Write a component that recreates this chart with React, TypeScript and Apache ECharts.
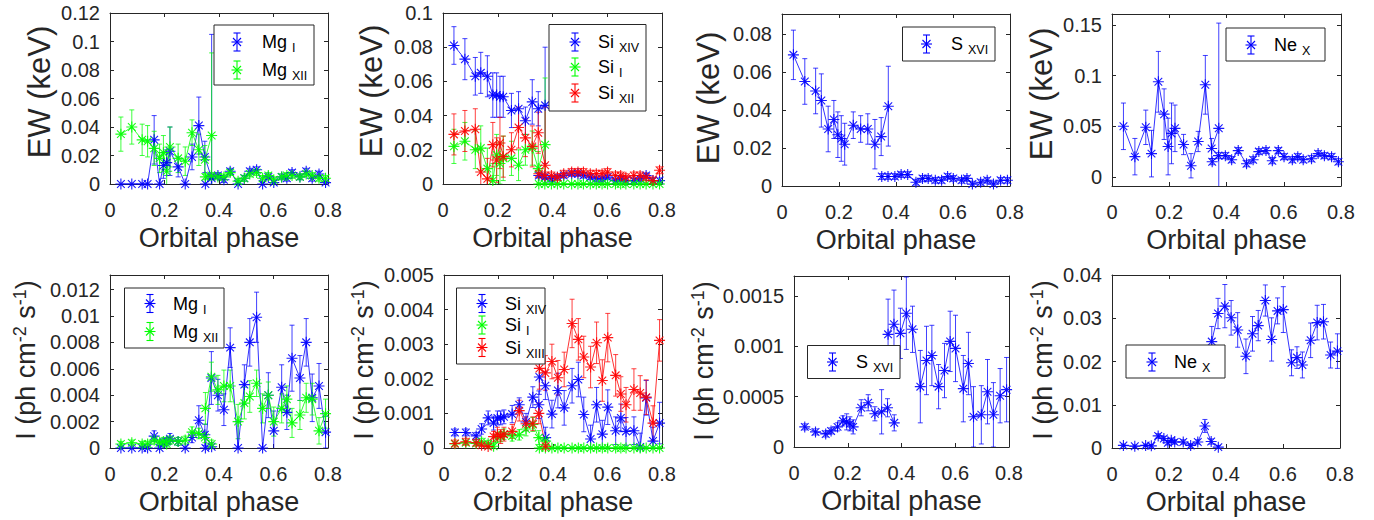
import React, { useEffect, useRef } from "react";
import * as echarts from "echarts";

// ---------- phases ----------
const phaseA = [0.04, 0.08, 0.118, 0.138, 0.162, 0.182, 0.196, 0.208, 0.22, 0.25, 0.276, 0.301, 0.326, 0.348, 0.373];
const phaseB = [0.35, 0.372, 0.396, 0.418, 0.441, 0.47, 0.493, 0.513, 0.538, 0.56, 0.581, 0.601, 0.63, 0.649, 0.668, 0.697, 0.72, 0.742, 0.767, 0.791];

// ---------- tick labels ----------
const xTicks = [0, 0.2, 0.4, 0.6, 0.8];
const ewMgTicks = [0, 0.02, 0.04, 0.06, 0.08, 0.1, 0.12];
const ewSiTicks = [0, 0.02, 0.04, 0.06, 0.08, 0.1];
const ewSTicks = [0, 0.02, 0.04, 0.06, 0.08];
const ewNeTicks = [0, 0.05, 0.1, 0.15];
const iMgTicks = [0, 0.002, 0.004, 0.006, 0.008, 0.01, 0.012];
const iSiTicks = [0, 0.001, 0.002, 0.003, 0.004, 0.005];
const iSTicks = [0, 0.0005, 0.001, 0.0015];
const iNeTicks = [0, 0.01, 0.02, 0.03, 0.04];

// ---------- EW Mg ----------
const mgIEwA = [0, 0, 0, 0, 0.031, 0, 0.013, 0.015, 0.023, 0.012, 0, 0.019, 0.041, 0.019, 0.004];
const mgIEwAErr = [0, 0, 0, 0, 0.017, 0, 0.009, 0.009, 0.017, 0.007, 0, 0.009, 0.02, 0.011, 0.101];
const mgIEwB = [0, 0.005, 0.006, 0.003, 0.009, 0, 0.004, 0.009, 0.01, 0, 0.005, 0.001, 0.005, 0.004, 0.008, 0.005, 0.009, 0.004, 0.007, 0.001];
const mgIEwBErr = [0, 0.002, 0.002, 0.002, 0.002, 0.001, 0.002, 0.002, 0.002, 0.001, 0.002, 0.001, 0.002, 0.002, 0.002, 0.002, 0.002, 0.002, 0.002, 0.001];
const mgXiiEwA = [0.035, 0.04, 0.031, 0.03, 0.025, 0.018, 0.022, 0.009, 0.026, 0.018, 0.016, 0.036, 0.024, 0.017, 0.034];
const mgXiiEwAErr = [0.012, 0.012, 0.011, 0.011, 0.012, 0.01, 0.012, 0.013, 0.014, 0.01, 0.01, 0.009, 0.011, 0.01, 0.058];
const mgXiiEwB = [0.005, 0.006, 0.005, 0.005, 0.008, 0.002, 0.004, 0.007, 0.008, 0.004, 0.006, 0.003, 0.005, 0.006, 0.006, 0.005, 0.007, 0.006, 0.004, 0.004];
const mgXiiEwBErr = [0.002, 0.002, 0.002, 0.002, 0.002, 0.002, 0.002, 0.002, 0.002, 0.002, 0.002, 0.002, 0.002, 0.002, 0.002, 0.002, 0.002, 0.002, 0.002, 0.002];

// ---------- EW Si ----------
const siXivEwA = [0.081, 0.073, 0.063, 0.065, 0.063, 0.052, 0.052, 0.051, 0.051, 0.043, 0.044, 0.037, 0.048, 0.044, 0.046];
const siXivEwAErr = [0.011, 0.012, 0.011, 0.012, 0.012, 0.013, 0.013, 0.012, 0.012, 0.01, 0.01, 0.008, 0.013, 0.01, 0.034];
const siXivEwB = [0.005, 0.004, 0.003, 0.004, 0.005, 0.006, 0.006, 0.005, 0.004, 0.003, 0.003, 0.004, 0.002, 0.003, 0.002, 0.002, 0.003, 0.005, 0.002, 0.002];
const siXivEwBErr = [0.0015, 0.0015, 0.0015, 0.0015, 0.0015, 0.0015, 0.0015, 0.0015, 0.0015, 0.0015, 0.0015, 0.0015, 0.0015, 0.0015, 0.0015, 0.0015, 0.0015, 0.0015, 0.0015, 0.0015];
const siIEwA = [0.022, 0.025, 0.02, 0.021, 0.009, 0.002, 0.017, 0.012, 0.015, 0.015, 0.011, 0.02, 0.021, 0.009, 0.023];
const siIEwAErr = [0.01, 0.011, 0.011, 0.013, 0.012, 0.01, 0.012, 0.012, 0.013, 0.01, 0.009, 0.009, 0.01, 0.01, 0.039];
const siIEwB = [0, 0, 0, 0, 0, 0, 0, 0, 0, 0, 0, 0, 0, 0, 0, 0, 0, 0, 0, 0];
const siIEwBErr = [0.0005, 0.0005, 0.0005, 0.0005, 0.0005, 0.0005, 0.0005, 0.0005, 0.0005, 0.0005, 0.0005, 0.0005, 0.0005, 0.0005, 0.0005, 0.0005, 0.0005, 0.0005, 0.0005, 0.0005];
const siXiiEwA = [0.029, 0.031, 0.032, 0.007, 0.003, 0.023, 0.014, 0.024, 0.016, 0.02, 0.033, 0.027, 0.022, 0.03, 0.011];
const siXiiEwAErr = [0.012, 0.012, 0.012, 0.013, 0.012, 0.013, 0.013, 0.015, 0.012, 0.01, 0.012, 0.011, 0.012, 0.012, 0.034];
const siXiiEwB = [0.006, 0.005, 0.005, 0.004, 0.006, 0.007, 0.007, 0.007, 0.006, 0.006, 0.006, 0.007, 0.005, 0.005, 0.004, 0.005, 0.005, 0.004, 0.002, 0.008];
const siXiiEwBErr = [0.002, 0.002, 0.002, 0.002, 0.002, 0.002, 0.002, 0.002, 0.002, 0.002, 0.002, 0.002, 0.002, 0.002, 0.002, 0.002, 0.002, 0.002, 0.002, 0.002];

// ---------- EW S ----------
const sXviEwA = [0.069, 0.055, 0.05, 0.045, 0.03, 0.035, 0.027, 0.025, 0.022, 0.032, 0.03, 0.03, 0.022, 0.026, 0.042];
const sXviEwAErr = [0.013, 0.012, 0.012, 0.014, 0.012, 0.01, 0.012, 0.012, 0.011, 0.007, 0.007, 0.008, 0.013, 0.01, 0.021];
const sXviEwB = [0.005, 0.005, 0.005, 0.006, 0.006, 0.002, 0.004, 0.004, 0.003, 0.003, 0.005, 0.004, 0.003, 0.004, 0.001, 0.002, 0.003, 0.001, 0.003, 0.003];
const sXviEwBErr = [0.0015, 0.0015, 0.0015, 0.0015, 0.0015, 0.0015, 0.0015, 0.0015, 0.0015, 0.0015, 0.0015, 0.0015, 0.0015, 0.0015, 0.0015, 0.0015, 0.0015, 0.0015, 0.0015, 0.0015];

// ---------- EW Ne ----------
const neXEwA = [0.05, 0.02, 0.049, 0.023, 0.094, 0.062, 0.03, 0.043, 0.048, 0.032, 0.011, 0.035, 0.091, 0.028, 0.048];
const neXEwAErr = [0.023, 0.018, 0.017, 0.023, 0.03, 0.025, 0.028, 0.03, 0.023, 0.01, 0.012, 0.01, 0.029, 0.01, 0.104];
const neXEwB = [0.015, 0.021, 0.021, 0.017, 0.026, 0.013, 0.017, 0.025, 0.026, 0.016, 0.026, 0.02, 0.017, 0.02, 0.017, 0.018, 0.023, 0.021, 0.02, 0.015];
const neXEwBErr = [0.003, 0.003, 0.003, 0.003, 0.003, 0.003, 0.003, 0.003, 0.003, 0.003, 0.003, 0.003, 0.003, 0.003, 0.003, 0.003, 0.003, 0.003, 0.003, 0.003];

// ---------- I Mg ----------
const mgIIntA = [0, 0, 0, 0, 0.0009, 0, 0.0004, 0.0005, 0.0007, 0.0005, 0, 0.0008, 0.0021, 0.001, 0.0001];
const mgIIntAErr = [0, 0, 0, 0, 0.0004, 0, 0.0003, 0.0003, 0.0004, 0.0003, 0, 0.0004, 0.0011, 0.0008, 0.0003];
const mgIIntB = [0, 0.0053, 0.004, 0.0029, 0.0076, 0, 0.0048, 0.008, 0.0099, 0, 0.004, 0.0013, 0.0046, 0.0027, 0.0068, 0.0053, 0.008, 0.0038, 0.0047, 0.0012];
const mgIIntBErr = [0, 0.002, 0.0012, 0.0012, 0.0015, 0.002, 0.0015, 0.0018, 0.0019, 0, 0.0017, 0.0015, 0.0017, 0.0013, 0.0025, 0.0017, 0.0018, 0.0018, 0.0017, 0.0012];
const mgXiiIntA = [0.0003, 0.0004, 0.0003, 0.0003, 0.0006, 0.0004, 0.0005, 0.0003, 0.0006, 0.0005, 0.0006, 0.0012, 0.0011, 0.0008, 0.0003];
const mgXiiIntAErr = [0.0002, 0.0002, 0.0002, 0.0002, 0.0003, 0.0002, 0.0003, 0.0003, 0.0003, 0.0003, 0.0003, 0.0004, 0.0004, 0.0004, 0.0003];
const mgXiiIntB = [0.003, 0.0054, 0.0044, 0.0047, 0.0047, 0.002, 0.0034, 0.0039, 0.0049, 0.003, 0.004, 0.002, 0.003, 0.0037, 0.0019, 0.0025, 0.0038, 0.0037, 0.0013, 0.0026];
const mgXiiIntBErr = [0.0012, 0.0011, 0.0011, 0.0012, 0.0012, 0.0013, 0.0012, 0.0012, 0.001, 0.0011, 0.001, 0.0011, 0.0011, 0.001, 0.0011, 0.0011, 0.0011, 0.0012, 0.001, 0.0011];

// ---------- I Si ----------
const siXivIntA = [0.00045, 0.00045, 0.00035, 0.00055, 0.00087, 0.00072, 0.00087, 0.00087, 0.0009, 0.00098, 0.00125, 0.00075, 0.00147, 0.00125, 0.0003];
const siXivIntAErr = [0.0001, 0.0001, 0.0001, 0.00015, 0.0002, 0.0002, 0.0002, 0.0002, 0.0002, 0.00025, 0.0002, 0.00025, 0.0003, 0.0004, 0.0003];
const siXivIntB = [0.00205, 0.0018, 0.00098, 0.00166, 0.00116, 0.0018, 0.00198, 0.00097, 0.00026, 0.00125, 0.0004, 0.00118, 0.0005, 0.00087, 0.00048, 0.0005, 0.00003, 0.00145, 0.0002, 0.00072];
const siXivIntBErr = [0.0005, 0.0004, 0.0004, 0.0005, 0.0005, 0.0005, 0.0005, 0.0005, 0.0004, 0.0005, 0.0004, 0.0005, 0.0004, 0.0004, 0.0004, 0.0004, 0.0004, 0.0005, 0.0004, 0.0006];
const siIIntA = [0.00012, 0.00015, 0.00013, 0.00018, 0.00012, 0.00005, 0.0003, 0.00033, 0.0004, 0.00035, 0.00038, 0.00055, 0.00068, 0.0003, 0.0002];
const siIIntAErr = [0.00005, 0.00005, 0.00005, 0.0001, 0.0001, 0.0001, 0.00015, 0.00015, 0.00015, 0.00015, 0.00015, 0.0002, 0.0002, 0.0002, 0.0001];
const siIIntB = [0, 0, 0, 0, 0, 0, 0, 0, 0, 0, 0, 0, 0, 0, 0, 0, 0, 0, 0, 0];
const siIIntBErr = [0.00003, 0.00003, 0.00003, 0.00003, 0.00003, 0.00003, 0.00003, 0.00003, 0.00003, 0.00003, 0.00003, 0.00003, 0.00003, 0.00003, 0.00003, 0.00003, 0.00003, 0.00003, 0.00003, 0.00003];
const siXiiiIntA = [0.00013, 0.00018, 0.00015, 0.00008, 0.00004, 0.00033, 0.0004, 0.00033, 0.0004, 0.00048, 0.00108, 0.0007, 0.0007, 0.001, 0.00005];
const siXiiiIntAErr = [0.0001, 0.0001, 0.0001, 0.0001, 0.0001, 0.00015, 0.0002, 0.0002, 0.0002, 0.0002, 0.0003, 0.0002, 0.0002, 0.0003, 0.0001];
const siXiiiIntB = [0.0023, 0.00217, 0.0025, 0.00203, 0.00227, 0.0036, 0.00314, 0.00263, 0.00234, 0.00304, 0.00195, 0.00319, 0.0021, 0.00156, 0.00125, 0.00169, 0.00159, 0.00147, 0.00072, 0.00311];
const siXiiiIntBErr = [0.0006, 0.0005, 0.0005, 0.0005, 0.0005, 0.0007, 0.0006, 0.0006, 0.0006, 0.0006, 0.0006, 0.0007, 0.0006, 0.0005, 0.0005, 0.0006, 0.0005, 0.0005, 0.0005, 0.0006];

// ---------- I S ----------
const sXviIntA = [0.0002, 0.00015, 0.00013, 0.00016, 0.0002, 0.00026, 0.00025, 0.00023, 0.0002, 0.00039, 0.00044, 0.00033, 0.00035, 0.00039, 0.00024];
const sXviIntAErr = [0.00003, 0.00003, 0.00003, 0.00003, 0.00004, 0.00005, 0.00008, 0.00007, 0.00007, 0.00008, 0.00008, 0.00007, 0.00022, 0.00009, 0.00008];
const sXviIntB = [0.00112, 0.00122, 0.00113, 0.00133, 0.00117, 0.0006, 0.00086, 0.00091, 0.0006, 0.00076, 0.00105, 0.00098, 0.00058, 0.00083, 0.0003, 0.00032, 0.00055, 0.00032, 0.00051, 0.00057];
const sXviIntBErr = [0.00035, 0.00034, 0.00025, 0.00036, 0.00023, 0.00036, 0.00034, 0.0003, 0.00022, 0.00027, 0.0003, 0.00033, 0.00033, 0.00031, 0.0003, 0.00029, 0.00032, 0.00032, 0.00027, 0.00032];

// ---------- I Ne ----------
const neXIntA = [0.0006, 0.0004, 0.0006, 0.0005, 0.0028, 0.0022, 0.0012, 0.0018, 0.0014, 0.0014, 0.0006, 0.0014, 0.0051, 0.0015, 0.0002];
const neXIntAErr = [0.0003, 0.0003, 0.0003, 0.0003, 0.0005, 0.0005, 0.0005, 0.0005, 0.0005, 0.0005, 0.0004, 0.0005, 0.0015, 0.0006, 0.0004];
const neXIntB = [0.0246, 0.0311, 0.0328, 0.0301, 0.0273, 0.0212, 0.0264, 0.0283, 0.0341, 0.0251, 0.0317, 0.032, 0.0197, 0.0209, 0.0192, 0.0249, 0.029, 0.0292, 0.0215, 0.0224];
const neXIntBErr = [0.0035, 0.0035, 0.005, 0.004, 0.004, 0.004, 0.004, 0.0035, 0.0036, 0.005, 0.003, 0.0053, 0.003, 0.0025, 0.003, 0.004, 0.004, 0.004, 0.003, 0.004];

// ---------- styling / layout ----------
const FONT = "'Liberation Sans', Arial, Helvetica, sans-serif";
const AX = "#262626";
const BLUE = "#0000ff";
const GREEN = "#00ff00";
const RED = "#ff0000";
const STAR = "path://M5 0L5 10M0 5L10 5M1.5 1.5L8.5 8.5M1.5 8.5L8.5 1.5";

type DS = { name: string; sub: string; color: string; a: number[]; ae: number[]; b: number[]; be: number[] };
type Panel = {
  grid: number[]; y: number[]; ticks: number[]; ew: boolean; labelPos: number[];
  legend: { box: number[]; rows: number[]; ix: number; tx: number };
  data: DS[];
};

const panels: Panel[] = [
  {
    grid: [110, 13, 218, 171], y: [0, 0.12], ticks: ewMgTicks, ew: true, labelPos: [39, 92],
    legend: { box: [214, 25, 100, 60], rows: [42, 70], ix: 237, tx: 262 },
    data: [
      { name: "Mg", sub: "I", color: BLUE, a: mgIEwA, ae: mgIEwAErr, b: mgIEwB, be: mgIEwBErr },
      { name: "Mg", sub: "XII", color: GREEN, a: mgXiiEwA, ae: mgXiiEwAErr, b: mgXiiEwB, be: mgXiiEwBErr },
    ],
  },
  {
    grid: [443, 13, 219, 171], y: [0, 0.1], ticks: ewSiTicks, ew: true, labelPos: [371, 91],
    legend: { box: [549, 24.5, 97, 86.5], rows: [42, 67, 93], ix: 575, tx: 598 },
    data: [
      { name: "Si", sub: "XIV", color: BLUE, a: siXivEwA, ae: siXivEwAErr, b: siXivEwB, be: siXivEwBErr },
      { name: "Si", sub: "I", color: GREEN, a: siIEwA, ae: siIEwAErr, b: siIEwB, be: siIEwBErr },
      { name: "Si", sub: "XII", color: RED, a: siXiiEwA, ae: siXiiEwAErr, b: siXiiEwB, be: siXiiEwBErr },
    ],
  },
  {
    grid: [782, 14, 228, 172], y: [0, 0.0905], ticks: ewSTicks, ew: true, labelPos: [708, 98],
    legend: { box: [902.5, 27, 92.5, 34], rows: [44], ix: 926.5, tx: 951 },
    data: [{ name: "S", sub: "XVI", color: BLUE, a: sXviEwA, ae: sXviEwAErr, b: sXviEwB, be: sXviEwBErr }],
  },
  {
    grid: [1112, 14, 229, 172], y: [-0.009, 0.161], ticks: ewNeTicks, ew: true, labelPos: [1041, 94],
    legend: { box: [1226, 28, 99, 33], rows: [45], ix: 1251, tx: 1274 },
    data: [{ name: "Ne", sub: "X", color: BLUE, a: neXEwA, ae: neXEwAErr, b: neXEwB, be: neXEwBErr }],
  },
  {
    grid: [110, 275, 218, 173], y: [0, 0.0131], ticks: iMgTicks, ew: false, labelPos: [26, 360],
    legend: { box: [124.5, 288, 99.5, 60], rows: [303.5, 331.5], ix: 150, tx: 173 },
    data: [
      { name: "Mg", sub: "I", color: BLUE, a: mgIIntA, ae: mgIIntAErr, b: mgIIntB, be: mgIIntBErr },
      { name: "Mg", sub: "XII", color: GREEN, a: mgXiiIntA, ae: mgXiiIntAErr, b: mgXiiIntB, be: mgXiiIntBErr },
    ],
  },
  {
    grid: [444, 275, 218, 173], y: [0, 0.005], ticks: iSiTicks, ew: false, labelPos: [364, 360],
    legend: { box: [456.5, 288, 88.5, 76], rows: [303.5, 325, 347.5], ix: 482, tx: 505 },
    data: [
      { name: "Si", sub: "XIV", color: BLUE, a: siXivIntA, ae: siXivIntAErr, b: siXivIntB, be: siXivIntBErr },
      { name: "Si", sub: "I", color: GREEN, a: siIIntA, ae: siIIntAErr, b: siIIntB, be: siIIntBErr },
      { name: "Si", sub: "XIII", color: RED, a: siXiiiIntA, ae: siXiiiIntAErr, b: siXiiiIntB, be: siXiiiIntBErr },
    ],
  },
  {
    grid: [794, 276, 215, 171], y: [0, 0.0017], ticks: iSTicks, ew: false, labelPos: [704, 361],
    legend: { box: [807.5, 345.5, 92.5, 33], rows: [362], ix: 832.5, tx: 856 },
    data: [{ name: "S", sub: "XVI", color: BLUE, a: sXviIntA, ae: sXviIntAErr, b: sXviIntB, be: sXviIntBErr }],
  },
  {
    grid: [1112, 275, 228, 173], y: [0, 0.04], ticks: iNeTicks, ew: false, labelPos: [1043, 360],
    legend: { box: [1126, 345, 99, 33], rows: [362], ix: 1152, tx: 1174 },
    data: [{ name: "Ne", sub: "X", color: BLUE, a: neXIntA, ae: neXIntAErr, b: neXIntB, be: neXIntBErr }],
  },
];

const fmt = (v: any) => String(parseFloat(Number(v).toPrecision(6)));

function buildOption() {
  const grid: any[] = [];
  const xAxis: any[] = [];
  const yAxis: any[] = [];
  const series: any[] = [];
  const graphic: any[] = [];

  panels.forEach((p, g) => {
    const [l, t, w, h] = p.grid;
    grid.push({ left: l, top: t, width: w, height: h, containLabel: false, show: false });
    const line = { show: true, onZero: false, lineStyle: { color: AX, width: 1 } };
    const tick = (vals: number[]) => ({ show: true, inside: true, length: 4, customValues: vals, lineStyle: { color: AX, width: 1 } });
    xAxis.push({
      type: "value", gridIndex: g, min: 0, max: 0.8, position: "bottom",
      axisLine: line, axisTick: tick(xTicks), splitLine: { show: false },
      axisLabel: { customValues: xTicks, formatter: fmt, color: AX, fontSize: 20, fontFamily: FONT, margin: 16 },
      name: "Orbital phase", nameLocation: "middle", nameGap: 40,
      nameTextStyle: { fontSize: 27, fontFamily: FONT, color: AX },
    });
    xAxis.push({
      type: "value", gridIndex: g, min: 0, max: 0.8, position: "top",
      axisLine: line, axisTick: tick(xTicks), splitLine: { show: false }, axisLabel: { show: false },
    });
    yAxis.push({
      type: "value", gridIndex: g, min: p.y[0], max: p.y[1], position: "left",
      axisLine: line, axisTick: tick(p.ticks), splitLine: { show: false },
      axisLabel: { customValues: p.ticks, formatter: fmt, color: AX, fontSize: 20, fontFamily: FONT, margin: 10 },
    });
    yAxis.push({
      type: "value", gridIndex: g, min: p.y[0], max: p.y[1], position: "right",
      axisLine: line, axisTick: tick(p.ticks), splitLine: { show: false }, axisLabel: { show: false },
    });

    p.data.forEach((d) => {
      const segs: [number[], number[], number[]][] = [[phaseA, d.a, d.ae], [phaseB, d.b, d.be]];
      segs.forEach(([xs, ys, es]) => {
        const col = d.color;
        series.push({
          type: "custom", xAxisIndex: 2 * g, yAxisIndex: 2 * g, clip: true, silent: true,
          data: xs.map((x, i) => [x, ys[i] - es[i], ys[i] + es[i]]),
          encode: { x: 0, y: [1, 2] },
          renderItem: (params: any, api: any) => {
            const x = api.value(0), lo = api.value(1), hi = api.value(2);
            if (hi - lo <= 0) return null;
            const p1 = api.coord([x, lo]);
            const p2 = api.coord([x, hi]);
            const c = 2.5;
            const st = { stroke: col, lineWidth: 1, opacity: 0.75 };
            return {
              type: "group",
              children: [
                { type: "line", shape: { x1: p1[0], y1: p1[1], x2: p2[0], y2: p2[1] }, style: st },
                { type: "line", shape: { x1: p1[0] - c, y1: p1[1], x2: p1[0] + c, y2: p1[1] }, style: st },
                { type: "line", shape: { x1: p2[0] - c, y1: p2[1], x2: p2[0] + c, y2: p2[1] }, style: st },
              ],
            };
          },
        });
        series.push({
          type: "line", xAxisIndex: 2 * g, yAxisIndex: 2 * g, silent: true,
          data: xs.map((x, i) => [x, ys[i]]),
          symbol: STAR, symbolSize: 11, showSymbol: true, showAllSymbol: true,
          lineStyle: { color: col, width: 1, opacity: 0.8 },
          itemStyle: { color: col, borderColor: col, borderWidth: 1.1, opacity: 0.9 },
        });
      });
    });

    // y label
    if (p.ew) {
      graphic.push({
        type: "text", x: p.labelPos[0], y: p.labelPos[1], rotation: Math.PI / 2, z: 50,
        style: { text: "EW (keV)", fill: AX, fontSize: 31, fontFamily: FONT, align: "center", verticalAlign: "middle", textAlign: "center", textVerticalAlign: "middle" },
      });
    } else {
      graphic.push({
        type: "text", x: p.labelPos[0], y: p.labelPos[1], rotation: Math.PI / 2, z: 50,
        style: {
          text: "{m|I (ph cm}{s|-2}{m| s}{s|-1}{m|)}", fill: AX, fontFamily: FONT,
          align: "center", verticalAlign: "middle", textAlign: "center", textVerticalAlign: "middle",
          rich: {
            m: { fontSize: 27, fontFamily: FONT, lineHeight: 30, fill: AX },
            s: { fontSize: 18, fontFamily: FONT, lineHeight: 17, verticalAlign: "top", fill: AX },
          },
        },
      });
    }

    // legend
    const L = p.legend;
    graphic.push({
      type: "rect", z: 60, shape: { x: L.box[0], y: L.box[1], width: L.box[2], height: L.box[3] },
      style: { fill: "#fff", stroke: AX, lineWidth: 1 },
    });
    p.data.forEach((d, k) => {
      const cy = L.rows[k];
      const cx = L.ix;
      const st = { stroke: d.color, lineWidth: 1.1 };
      const r = 5.5, q = 4, e = 9, c = 3.5;
      [
        [cx, cy - e, cx, cy + e], [cx - c, cy - e, cx + c, cy - e], [cx - c, cy + e, cx + c, cy + e],
        [cx - r, cy, cx + r, cy], [cx - q, cy - q, cx + q, cy + q], [cx - q, cy + q, cx + q, cy - q],
      ].forEach((s) => graphic.push({ type: "line", z: 61, shape: { x1: s[0], y1: s[1], x2: s[2], y2: s[3] }, style: st }));
      graphic.push({
        type: "text", x: L.tx, y: cy, z: 61,
        style: {
          text: `{m|${d.name} }{s|${d.sub}}`, fill: "#000", fontFamily: FONT,
          align: "left", verticalAlign: "middle", textAlign: "left", textVerticalAlign: "middle",
          rich: {
            m: { fontSize: 18, fontFamily: FONT, lineHeight: 25, fill: "#000" },
            s: { fontSize: 12.5, fontFamily: FONT, lineHeight: 14, verticalAlign: "bottom", fill: "#000" },
          },
        },
      });
    });
  });

  return { animation: false, backgroundColor: "#fff", grid, xAxis, yAxis, series, graphic };
}

export default function App() {
  const ref = useRef<HTMLDivElement>(null);
  useEffect(() => {
    if (!ref.current) return;
    const chart = echarts.init(ref.current, undefined, { renderer: "svg" });
    chart.setOption(buildOption() as any);
    return () => chart.dispose();
  }, []);
  return <div ref={ref} style={{ position: "fixed", left: 0, top: 0, width: 1374, height: 520 }} />;
}
